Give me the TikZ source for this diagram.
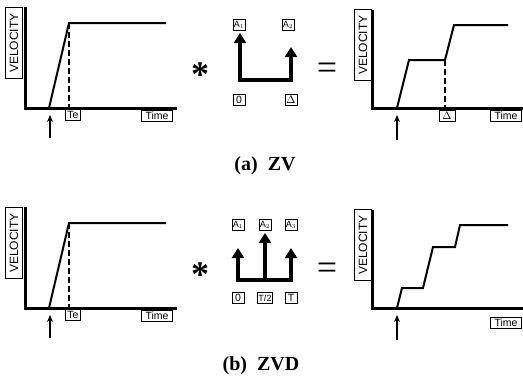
\documentclass[tikz,border=0pt]{standalone}
\usepackage{fontspec}
\setmainfont{Liberation Serif}
\setsansfont{Liberation Sans}
\usetikzlibrary{arrows.meta}

\begin{document}
\begin{tikzpicture}[x=1pt,y=-1pt,
  axis/.style={line width=3pt},
  curve/.style={line width=2pt, line join=miter},
  guide/.style={line width=1.5pt, dash pattern=on 6pt off 3pt},
  tag/.style={draw, line width=0.6pt, inner sep=0pt, minimum height=11pt, font=\sffamily\fontsize{10.5}{10.5}\selectfont},
  vel/.style={draw, line width=0.6pt, inner sep=0pt, minimum width=71pt, minimum height=17pt, rotate=90, font=\sffamily\fontsize{12}{12}\selectfont},
  start/.style={line width=1.3pt, -{Stealth[length=7pt,width=6pt]}},
  impulse/.style={line width=3.6pt, line join=miter},
  sign/.style={font=\bfseries\fontsize{36}{36}\selectfont},
  caption/.style={font=\bfseries\fontsize{20}{20}\selectfont}]
\useasboundingbox (0,0) rectangle (523,384);

% (a) ZV
\node[vel] (vela) at (14,43) {VELOCITY};
\draw[axis] (25,7) -- (25,108) -- (177,108);
\draw[curve] (49,108) -- (69,23) -- (166,23);
\draw[guide] (69,23) -- (69,108);
\node[tag, minimum width=15pt] (tea) at (73,115) {Te};
\node[tag, minimum width=31pt] (timea) at (157,116) {Time};
\draw[start] (50,138) -- (50,115);

\node[sign] (stara) at (200,75) {*};
\draw[impulse, {Triangle[length=10pt,width=12pt]}-{Triangle[length=10pt,width=12pt]}] (240,33) -- (240,80) -- (291,80) -- (291,47);
\node[tag, minimum width=12pt, font=\sffamily\fontsize{9}{9}\selectfont] (a1) at (239,25) {A$_1$};
\node[tag, minimum width=12pt, font=\sffamily\fontsize{9}{9}\selectfont] (a2) at (288,25) {A$_2$};
\node[tag, minimum width=12pt] (za) at (239,100) {0};
\node[tag, minimum width=12pt] (da) at (291,100) {$\Delta$};
\node[sign, font=\fontsize{36}{36}\selectfont] (eqa) at (327,71) {=};

\node[vel] (velb) at (363,45) {VELOCITY};
\draw[axis] (372,10) -- (372,108) -- (523,108);
\draw[curve] (397,108) -- (409,60) -- (445,60) -- (454,25) -- (508,25);
\draw[guide] (445,60) -- (445,108);
\node[tag, minimum width=16pt] (dtag) at (447,116) {$\Delta$};
\node[tag, minimum width=31pt] (timeb) at (506,116) {Time};
\draw[start] (397,140) -- (397,115);

\node[caption] (capa) at (265,166) {(a)\ \ ZV};

% (b) ZVD
\begin{scope}[yshift=-200pt]
\node[vel] (velc) at (14,43) {VELOCITY};
\draw[axis] (25,7) -- (25,108) -- (177,108);
\draw[curve] (49,108) -- (69,23) -- (166,23);
\draw[guide] (69,23) -- (69,108);
\node[tag, minimum width=15pt] (teb) at (73,115) {Te};
\node[tag, minimum width=31pt] (timec) at (157,116) {Time};
\draw[start] (50,138) -- (50,115);

\node[sign] (starb) at (200,75) {*};
\draw[impulse, {Triangle[length=10pt,width=12pt]}-{Triangle[length=10pt,width=12pt]}] (238,48) -- (238,80) -- (291,80) -- (291,48);
\draw[impulse, -{Triangle[length=10pt,width=12pt]}] (265,80) -- (265,33);
\node[tag, minimum width=12pt, font=\sffamily\fontsize{9}{9}\selectfont] (b1) at (238,25) {A$_1$};
\node[tag, minimum width=12pt, font=\sffamily\fontsize{9}{9}\selectfont] (b2) at (265,25) {A$_2$};
\node[tag, minimum width=12pt, font=\sffamily\fontsize{9}{9}\selectfont] (b3) at (291,25) {A$_3$};
\node[tag, minimum width=12pt] (zb) at (238,98) {0};
\node[tag, minimum width=15pt, font=\sffamily\fontsize{9}{9}\selectfont] (hb) at (265,98) {T/2};
\node[tag, minimum width=12pt] (tb) at (291,98) {T};
\node[sign, font=\fontsize{36}{36}\selectfont] (eqb) at (327,71) {=};

\node[vel] (veld) at (363,45) {VELOCITY};
\draw[axis] (372,10) -- (372,108) -- (523,108);
\draw[curve] (397,108) -- (402,88) -- (423,88) -- (433,47) -- (455,47) -- (460,25) -- (508,25);
\node[tag, minimum width=31pt] (timed) at (506,123) {Time};
\draw[start] (397,140) -- (397,115);

\node[caption] (capb) at (261,166) {(b)\ \ ZVD};
\end{scope}
\end{tikzpicture}
\end{document}
